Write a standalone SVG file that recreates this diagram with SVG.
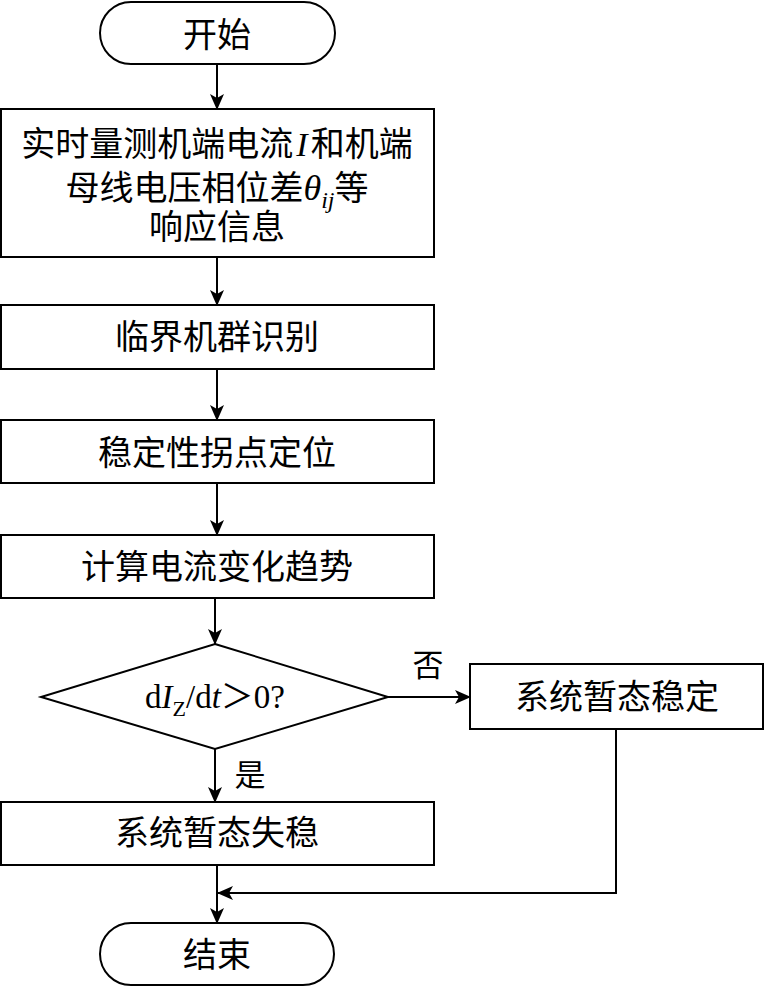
<svg xmlns="http://www.w3.org/2000/svg" width="765" height="987" viewBox="0 0 765 987">
<style>
.s{fill:#fff;stroke:#000;stroke-width:2}
.c{fill:none;stroke:#000;stroke-width:2}
text{font-family:"Liberation Serif","Noto Sans CJK SC",serif;font-size:34px;fill:#000;text-anchor:middle}
.m{font-size:33px}
.i{font-style:italic}
.l{font-size:31px}
</style>
<defs>
<marker id="a" markerUnits="userSpaceOnUse" markerWidth="16" markerHeight="14" refX="15" refY="7" orient="auto">
<path d="M0,0 L16,7 L0,14 L4,7 z" fill="#000"/>
</marker>
</defs>
<g id="connectors">
<line class="c" x1="217" y1="64" x2="217" y2="109" marker-end="url(#a)"/>
<line class="c" x1="217" y1="257" x2="217" y2="305" marker-end="url(#a)"/>
<line class="c" x1="217" y1="369" x2="217" y2="420" marker-end="url(#a)"/>
<line class="c" x1="217" y1="483" x2="217" y2="535" marker-end="url(#a)"/>
<line class="c" x1="215" y1="598" x2="215" y2="644" marker-end="url(#a)"/>
<line class="c" x1="388" y1="697" x2="470" y2="697" marker-end="url(#a)"/>
<line class="c" x1="215" y1="749" x2="215" y2="802" marker-end="url(#a)"/>
<line class="c" x1="217" y1="865" x2="217" y2="923" marker-end="url(#a)"/>
<polyline class="c" points="616,729 616,893 218,893" marker-end="url(#a)"/>
<text class="l" x="428" y="676">否</text>
<text class="l" x="250" y="786">是</text>
</g>
<g id="start">
<rect class="s" x="100" y="2" width="235" height="62" rx="31"/>
<text x="217" y="47">开始</text>
</g>
<g id="measure">
<rect class="s" x="1" y="109" width="433" height="148"/>
<text x="217" y="156">实时量测机端电流<tspan class="i" dx="3">I</tspan><tspan dx="3">和机端</tspan></text>
<text x="217" y="200">母线电压相位差<tspan class="i" font-size="36">θ</tspan><tspan class="i" font-size="24" dy="8">ij</tspan><tspan dy="-8">等</tspan></text>
<text x="217" y="239">响应信息</text>
</g>
<g id="identify">
<rect class="s" x="1" y="305" width="433" height="64"/>
<text x="217" y="349">临界机群识别</text>
</g>
<g id="locate">
<rect class="s" x="1" y="420" width="433" height="63"/>
<text x="217" y="465">稳定性拐点定位</text>
</g>
<g id="compute">
<rect class="s" x="1" y="535" width="433" height="63"/>
<text x="217" y="579">计算电流变化趋势</text>
</g>
<g id="decision">
<polygon class="s" points="215,644 388,697 215,749 41,697"/>
<text class="m" x="215" y="708">d<tspan class="i">I</tspan><tspan font-size="22" dy="8">Z</tspan><tspan dy="-8">/d</tspan><tspan class="i">t</tspan>＞0?</text>
</g>
<g id="stable">
<rect class="s" x="470" y="664" width="293" height="65"/>
<text x="617" y="709">系统暂态稳定</text>
</g>
<g id="unstable">
<rect class="s" x="1" y="802" width="433" height="63"/>
<text x="217" y="845">系统暂态失稳</text>
</g>
<g id="end">
<rect class="s" x="100" y="923" width="234" height="62" rx="31"/>
<text x="217" y="967">结束</text>
</g>
</svg>
